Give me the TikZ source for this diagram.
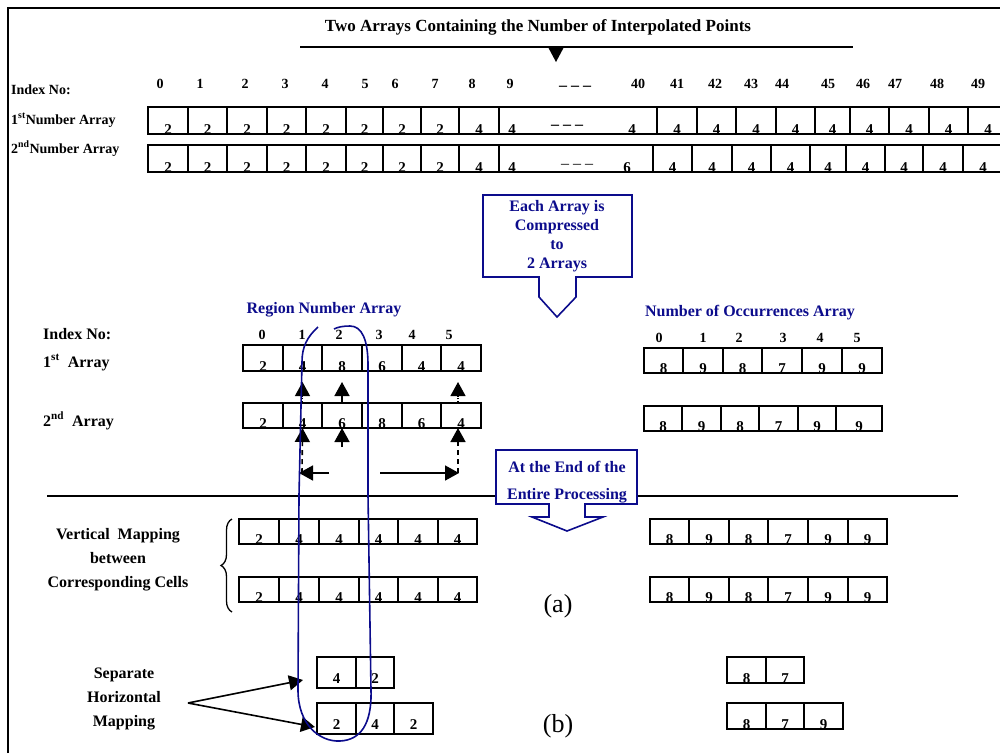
\documentclass[tikz,border=0pt]{standalone}
\usepackage{fontspec}
\setmainfont{Liberation Serif}
\usetikzlibrary{arrows.meta,decorations.pathreplacing}
\definecolor{navy}{RGB}{12,12,140}
\newcommand{\fsz}[1]{\fontsize{#1}{#1}\selectfont}
\tikzset{
  cellbox/.style={draw, line width=1.6pt, inner sep=0pt, outer sep=0pt, rectangle},
  digit/.style={font=\fsz{15}\bfseries, inner sep=0pt, anchor=base},
  idx/.style={font=\fsz{14}\bfseries, inner sep=0pt},
  lbl/.style={font=\fsz{16}\bfseries, inner sep=0pt},
  lblsmall/.style={font=\fsz{14}\bfseries, inner sep=0pt},
  navytext/.style={font=\fsz{16}\bfseries, text=navy, inner sep=0pt},
  dashtext/.style={font=\fsz{16}\bfseries, inner sep=0pt},
  arr/.style={line width=1.6pt, -{Triangle[width=15pt,length=14pt]}},
  navyline/.style={draw=navy, line width=1.6pt},
  dashedstem/.style={dash pattern=on 5pt off 4pt},
}
\newcommand{\cellrow}[5]{%
  \foreach \xa/\xb/\cv [count=\ci] in {#5} {
    \pgfmathsetmacro{\cellw}{\xb-\xa}
    \pgfmathsetmacro{\cellh}{#3-#2}
    \node[cellbox, minimum width=\cellw, minimum height=\cellh, anchor=north west] (#1-\ci) at (\xa,#2) {};
    \node[digit] (#1-\ci-v) at ([yshift=#4pt]#1-\ci.south) {\cv};
  }}
\begin{document}
\begin{tikzpicture}[x=1pt,y=-1pt]
\useasboundingbox (0,0) rectangle (1000,753);
% frame
\draw[line width=1.6pt] (8,753) -- (8,8) -- (1000,8);

% title
\node[lbl, font=\fsz{17}\bfseries, anchor=base] (title) at (538,31) {Two Arrays Containing the Number of Interpolated Points};
\coordinate (tlA) at (300,47);
\coordinate (tlB) at (853,47);
\draw[line width=1.6pt] (tlA) -- (tlB);
\fill (548,47) -- (564,47) -- (556,62) -- cycle;

% top labels
\node[lblsmall, anchor=base west] (idxA) at (11,94) {Index No:};
\node[lblsmall, anchor=base west] (numA) at (11,124) {1\textsuperscript{st}Number Array};
\node[lblsmall, anchor=base west] (numB) at (11,153) {2\textsuperscript{nd}Number Array};

% top index numbers
\foreach \x/\t [count=\k] in {160/0,200/1,245/2,285/3,325/4,365/5,395/6,435/7,472/8,510/9,638/40,677/41,715/42,751/43,782/44,828/45,863/46,895/47,937/48,978/49}
  \node[idx, anchor=base] (ti-\k) at (\x,88) {\t};
\node[dashtext] (tidots) at (575,88) {\textendash\ \textendash\ \textendash};

% top first array
\cellrow{ta}{107}{134}{0}{148/188/2,188/227/2,227/267/2,267/306/2,306/346/2,346/383/2,383/421/2,421/459/2,459/499/4}
\node[cellbox, minimum width=158, minimum height=27, anchor=north west] (ta-big) at (499,107) {};
\node[digit] (ta-big-a) at (512,134) {4};
\node[dashtext] (ta-big-d) at (567,127) {\textendash\ \textendash\ \textendash};
\node[digit] (ta-big-b) at (632,134) {4};
\cellrow{tc}{107}{134}{0}{657/697/4,697/736/4,736/776/4,776/815/4,815/850/4,850/889/4,889/929/4,929/968/4,968/1008/4}

% top second array
\cellrow{tb}{145}{172}{0}{148/188/2,188/227/2,227/267/2,267/306/2,306/346/2,346/383/2,383/421/2,421/459/2,459/499/4}
\node[cellbox, minimum width=154, minimum height=27, anchor=north west] (tb-big) at (499,145) {};
\draw[line width=1.6pt] (tb-big.north east) -- ++(10,0);
\node[digit] (tb-big-a) at (512,172) {4};
\node[dashtext, font=\fsz{16}] (tb-big-d) at (577,166) {\textendash\ \textendash\ \textendash};
\node[digit] (tb-big-b) at (627,172) {6};
\cellrow{td}{145}{172}{0}{653/692/4,692/732/4,732/771/4,771/810/4,810/846/4,846/885/4,885/923/4,923/963/4,963/1003/4}

% callout 1
\draw[navyline, fill=white] (483,195) -- (632,195) -- (632,277) -- (576,277) -- (576,297) -- (557,317) -- (539,297) -- (539,277) -- (483,277) -- cycle;
\node[navytext, align=center, anchor=base, font=\fontsize{16}{19}\selectfont\bfseries] (call1) at (557,268) {Each Array is\\Compressed\\to\\2 Arrays};

% array titles
\node[navytext, anchor=base] (rna) at (324,313) {Region Number Array};
\node[navytext, anchor=base] (noa) at (750,316) {Number of Occurrences Array};

% lower-left labels
\node[lbl, anchor=base west] (idxB) at (43,339) {Index No:};
\node[lbl, anchor=base west] (arrA) at (43,367) {1\textsuperscript{st}\ \ Array};
\node[lbl, anchor=base west] (arrB) at (43,426) {2\textsuperscript{nd}\ \ Array};

\foreach \x/\t [count=\k] in {262/0,302/1,339/2,379/3,412/4,449/5}
  \node[idx, anchor=base] (ri-\k) at (\x,339) {\t};
\foreach \x/\t [count=\k] in {659/0,703/1,739/2,783/3,820/4,857/5}
  \node[idx, anchor=base] (oi-\k) at (\x,342) {\t};

% region arrays
\cellrow{ra}{345}{371}{0}{243/283/2,283/322/4,322/362/8,362/402/6,402/441/4,441/481/4}
\cellrow{rb}{403}{428}{0}{243/283/2,283/322/4,322/362/6,362/402/8,402/441/6,441/481/4}
% occurrence arrays
\cellrow{oa}{348}{373}{0}{644/683/8,683/723/9,723/762/8,762/802/7,802/842/9,842/882/9}
\cellrow{ob}{406}{431}{0}{644/682/8,682/721/9,721/759/8,759/798/7,798/836/9,836/882/9}

% arrows between region arrays
\draw[arr, dotted, line width=1.2pt] (rb-2.north) -- ([yshift=-11pt]ra-2.south);
\draw[arr] (rb-3.north) -- ([yshift=-11pt]ra-3.south);
\draw[arr, dotted, line width=1.2pt] ([xshift=-3pt]rb-6.north) -- ([xshift=-3pt,yshift=-11pt]ra-6.south);
\coordinate (cL) at (302,473);
\coordinate (cM) at (342,447);
\coordinate (cR) at (458,473);
\coordinate (hL) at (329,473);
\coordinate (hR) at (380,473);
\draw[arr, dashedstem] (cL) -- (rb-2.south);
\draw[arr] (cM) -- (rb-3.south);
\draw[arr, dashedstem] (cR) -- ([xshift=-3pt]rb-6.south);
\draw[arr, shorten >=-3pt] (hL) -- (cL);
\draw[arr, shorten >=-1pt] (hR) -- (cR);

% divider
\coordinate (dA) at (47,496);
\coordinate (dB) at (958,496);
\draw[line width=1.6pt] (dA) -- (dB);

% callout 2
\draw[navyline, fill=white] (496,450) -- (637,450) -- (637,504) -- (585,504) -- (585,517) -- (603,517) -- (567,531) -- (532,517) -- (549,517) -- (549,504) -- (496,504) -- cycle;
\node[navytext, align=center, anchor=base, font=\fontsize{16}{27}\selectfont\bfseries] (call2) at (567,499) {At the End of the\\Entire Processing};

% vertical mapping
\draw[line width=1.3pt, decorate, decoration={brace, amplitude=11pt}] (232,612) -- (232,519);
\node[lbl, align=center, anchor=base, font=\fontsize{16}{24}\selectfont\bfseries] (vmap) at (118,587) {Vertical\ \ Mapping\\between\\Corresponding Cells};
\cellrow{va}{519}{544}{0}{239/279/2,279/319/4,319/359/4,359/398/4,398/438/4,438/477/4}
\cellrow{vb}{577}{602}{0}{239/279/2,279/319/4,319/359/4,359/398/4,398/438/4,438/477/4}
\cellrow{wa}{519}{544}{0}{650/689/8,689/729/9,729/768/8,768/808/7,808/848/9,848/887/9}
\cellrow{wb}{577}{602}{0}{650/689/8,689/729/9,729/768/8,768/808/7,808/848/9,848/887/9}
\node[font=\fsz{26}, inner sep=0pt, anchor=base] (laba) at (558,612) {(a)};

% separate horizontal mapping
\cellrow{sa}{657}{688}{5}{317/356/4,356/394/2}
\cellrow{sb}{703}{734}{5}{317/356/2,356/394/4,394/433/2}
\cellrow{xa}{657}{683}{0}{727/766/8,766/804/7}
\cellrow{xb}{703}{729}{0}{727/766/8,766/804/7,804/843/9}
\node[font=\fsz{26}, inner sep=0pt, anchor=base] (labb) at (558,732) {(b)};
\node[lbl, align=center, anchor=base, font=\fontsize{16}{24}\selectfont\bfseries] (shm) at (124,726) {Separate\\Horizontal\\Mapping};
\coordinate (fork) at (188,703);
\coordinate (tipA) at (303,680);
\coordinate (tipB) at (315,727);
\draw[arr] (fork) -- (tipA);
\draw[arr] (fork) -- (tipB);

% navy loop
\draw[navyline] (318,327) .. controls (307,337) and (302,347) .. (302,362) -- (299,495) -- (298,690) .. controls (298,725) and (320,742) .. (340,741) .. controls (360,740) and (372,725) .. (371,690) -- (368,495) -- (368,365) .. controls (368,340) and (362,326) .. (350,326) .. controls (343,326) and (338,327) .. (334,329);
\end{tikzpicture}
\end{document}
